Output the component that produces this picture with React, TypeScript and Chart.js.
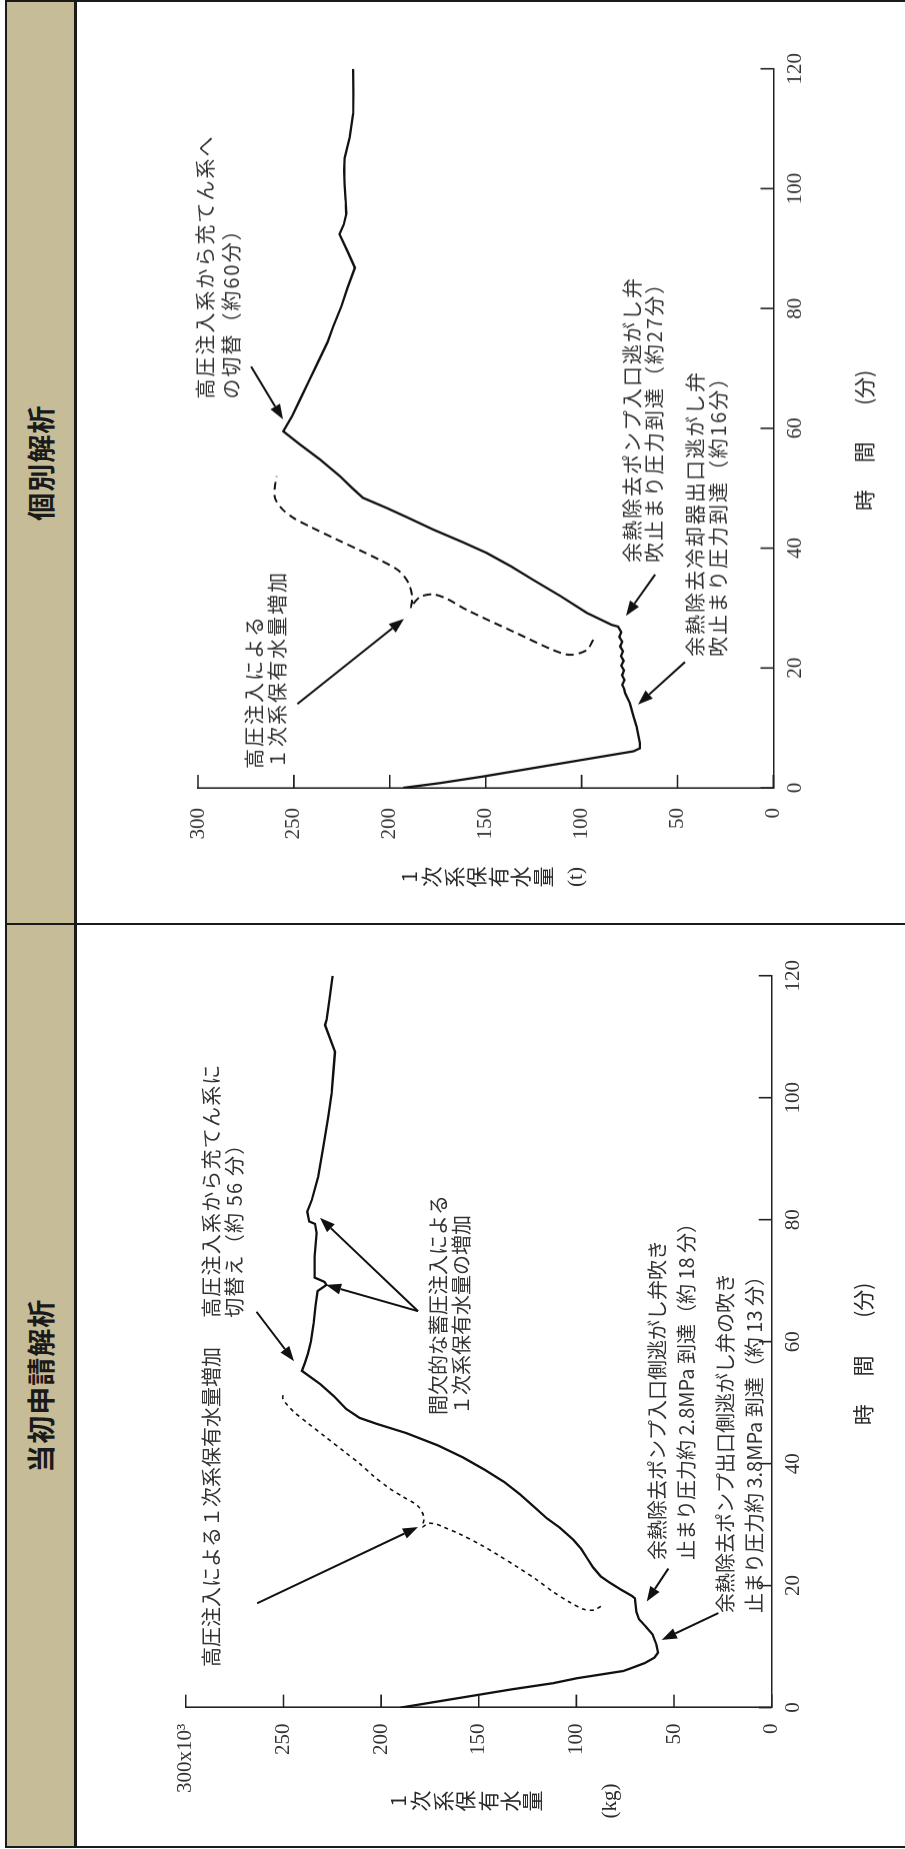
import { useEffect, useRef } from 'react';
import { Chart, registerables } from 'chart.js';
Chart.register(...registerables);

// ---------------- data ----------------
const timeTicks = [0, 20, 40, 60, 80, 100, 120];
const massTicks = [0, 50, 100, 150, 200, 250, 300];

// 当初申請解析 (left panel)  [time(min), mass(x10^3 kg)]
const leftSolid: [number, number][] = [
  [0, 190], [1, 171], [2, 152], [3, 133], [4, 112], [4.8, 100], [5.5, 86], [6.0, 76], [6.4, 72.5],
  [7.3, 65], [8.2, 60], [9.0, 58.2], [10.3, 59], [12.0, 61], [13.3, 64.5], [14.5, 68], [15.7, 69.3],
  [17.9, 70], [18.3, 71.5], [19.3, 77], [20.5, 83], [21.5, 87.5], [23.0, 91.5], [24.5, 94.5],
  [26.0, 97.5], [27.5, 101.5], [29.5, 108.5], [31.0, 115], [33.0, 122], [35.0, 129], [37.0, 137],
  [39.0, 147], [41.0, 158], [43.0, 171], [45.0, 187], [46.5, 202], [47.5, 211], [49.0, 218],
  [51.0, 224], [53.0, 231], [55.2, 240.5], [56.5, 239], [58.0, 237.5], [60.0, 236], [63.0, 234.5],
  [66.0, 233.5], [68.3, 232.5], [69.3, 228], [69.8, 229], [70.5, 234], [74.0, 234], [77.8, 233],
  [79.3, 233.8], [79.7, 236.8], [81.3, 237.8], [83.2, 235.5], [87.0, 232.2], [92.0, 229.6],
  [97.0, 227], [100.7, 225.3], [104.0, 224.5], [107.5, 223.6], [110.0, 226.5], [111.9, 228.7],
  [112.8, 227.9], [116.0, 226.5], [120.0, 224.8],
];
const leftDashed: [number, number][] = [
  [16.6, 87.5], [16.0, 91], [16.1, 96], [17.2, 103], [19, 112], [21, 120.5], [23, 130], [25, 140],
  [26.7, 149], [28.5, 160], [29.6, 168], [30.1, 172], [30.2, 176], [29.6, 179], [31.1, 178],
  [33, 181], [34.6, 189], [36, 196], [38, 204], [40, 211], [42, 219], [44.5, 229], [46.5, 237],
  [48.3, 244], [49.6, 248], [50.6, 250.3], [51.7, 250],
];

// 個別解析 (right panel)  [time(min), mass(t)]
const rightSolid: [number, number][] = [
  [0, 193], [0.8, 173.8], [1.9, 151.3], [3.3, 125.2], [4.7, 99.1], [6.1, 73], [6.6, 69.6],
  [7.5, 69.6], [10.2, 71.3], [12, 73], [14.1, 74.8], [15.8, 77.3], [16.5, 77.8], [17.2, 78.8],
  [18, 77.6], [18.8, 78.9], [19.6, 77.9], [20.4, 79.3], [21.2, 78.1], [22, 79.5], [22.8, 78.4],
  [23.6, 79.9], [24.4, 78.8], [25.2, 80.3], [26, 79.3], [26.7, 80.6], [26.9, 80.9], [27.2, 84.3],
  [29.2, 97.3], [32, 111], [34.7, 125.2], [37, 137], [39.2, 149.5], [41, 162], [43.1, 177.3],
  [45, 190], [46.7, 201.6], [48.4, 214], [50, 219.5], [52, 226], [54.8, 236.4], [57.3, 246.8],
  [59.5, 255.5], [62, 251], [65, 246.5], [68, 242], [71, 237.5], [74.4, 232.4], [77, 229.5],
  [80.3, 225.3], [83.5, 222], [86.8, 218.2], [89.5, 222], [92.4, 226.2], [94, 224], [95.8, 222.7],
  [98, 223], [100.6, 223.6], [103, 223.8], [105.1, 223.6], [108.5, 220.9], [112.5, 219.1],
  [116, 219], [120, 219.1],
];
const rightDashed: [number, number][] = [
  [24.7, 93.9], [23.0, 97.3], [22.2, 106], [23.0, 114.8], [25.8, 133.8], [29.7, 159.9],
  [31.6, 170.5], [32.3, 177.5], [31.9, 184], [30.8, 187.5], [30.0, 189], [31.8, 188.3],
  [33.6, 189.5], [35, 191.8], [36.4, 196], [38, 205], [39.7, 216], [41.5, 228], [43.5, 241],
  [45, 250], [46.5, 256], [48.3, 259.8], [50, 260], [52, 259],
];

// ---------------- layout / text ----------------
type Ann = { t: number; m: number; lines: string[]; gap: number; ls?: number };
type Arw = { from: [number, number]; to: [number, number] };
type Panel = {
  header: string;
  solid: [number, number][];
  dashed: [number, number][];
  dash: number[];
  dashWidth: number;
  canvasLeft: number;
  canvasWidth: number;
  padding: { left: number; right: number; top: number; bottom: number };
  yTickPad: number;
  topLabel: string;
  yTitle: string[];
  yUnit: string;
  yTitleDX: number;
  yTitleY0: number;
  yTitleStep: number;
  yUnitY: number;
  letterSpacing: number;
  anns: Ann[];
  arrows: Arw[];
};

const CANVAS_TOP = 77;
const CANVAS_H = 905 - CANVAS_TOP;
const timeTitle: [string, number][] = [['時', 48], ['間', 56], ['(分)', 66.8]];

const leftPanel: Panel = {
  header: '当初申請解析',
  solid: leftSolid,
  dashed: leftDashed,
  dash: [4, 4],
  dashWidth: 1.6,
  canvasLeft: 3,
  canvasWidth: 920,
  padding: { left: 48.4, right: 49.7, top: 108.8, bottom: 93.3 },
  yTickPad: 16,
  topLabel: '300x10³',
  yTitle: ['1', '次', '系', '保', '有', '水', '量'],
  yUnit: '(kg)',
  yTitleDX: 93.4,
  yTitleY0: 212.2,
  yTitleStep: 22.4,
  yUnitY: 424.2,
  letterSpacing: 0,
  anns: [
    { t: 6.66, m: 287.1, lines: ['高圧注入による１次系保有水量増加'], gap: 0 },
    { t: 63.9, m: 287.1, lines: ['高圧注入系から充てん系に', '切替え（約 56 分）'], gap: 23, ls: 1.2 },
    { t: 47.98, m: 170.6, lines: ['間欠的な蓄圧注入による', '１次系保有水量の増加'], gap: 23 },
    { t: 24.2, m: 58.7, lines: ['余熱除去ポンプ入口側逃がし弁吹き', '止まり圧力約 2.8MPa 到達（約 18 分）'], gap: 29 },
    { t: 15.5, m: 23.6, lines: ['余熱除去ポンプ出口側逃がし弁の吹き', '止まり圧力約 3.8MPa 到達（約 13 分）'], gap: 29 },
  ],
  arrows: [
    { from: [17.1, 263.5], to: [29.6, 181.1] },
    { from: [64.9, 263.8], to: [56.8, 244.6] },
    { from: [65.0, 181.1], to: [80.3, 231.3] },
    { from: [65.0, 181.1], to: [69.3, 228.2] },
    { from: [22.8, 52.9], to: [17.4, 64.0] },
    { from: [15.5, 27.3], to: [11.1, 56.3] },
  ],
};

const rightPanel: Panel = {
  header: '個別解析',
  solid: rightSolid,
  dashed: rightDashed,
  dash: [8, 5],
  dashWidth: 2,
  canvasLeft: 926,
  canvasWidth: 920.5,
  padding: { left: 45, right: 66.7, top: 121, bottom: 91.6 },
  yTickPad: 20,
  topLabel: '300',
  yTitle: ['1', '次', '系', '保', '有', '水', '量'],
  yUnit: '(t)',
  yTitleDX: 89,
  yTitleY0: 211,
  yTitleStep: 22.3,
  yUnitY: 378,
  letterSpacing: 2,
  anns: [
    { t: 3.17, m: 270.8, lines: ['高圧注入による', '１次系保有水量増加'], gap: 23 },
    { t: 64.9, m: 296.3, lines: ['高圧注入系から充てん系へ', 'の切替（約60分）'], gap: 26 },
    { t: 37.6, m: 73.7, lines: ['余熱除去ポンプ入口逃がし弁', '吹止まり圧力到達（約27分）'], gap: 22.5 },
    { t: 21.9, m: 40.6, lines: ['余熱除去冷却器出口逃がし弁', '吹止まり圧力到達（約16分）'], gap: 23 },
  ],
  arrows: [
    { from: [14.0, 248.2], to: [28.2, 192.6] },
    { from: [70.3, 272.3], to: [61.5, 255.7] },
    { from: [35.6, 61.7], to: [28.7, 76.9] },
    { from: [21.0, 46.1], to: [13.9, 70.6] },
  ],
};

const JP = '"Noto Sans CJK JP", "Noto Sans", sans-serif';
const SERIF = '"Liberation Serif", "DejaVu Serif", serif';

function drawArrow(ctx: CanvasRenderingContext2D, x1: number, y1: number, x2: number, y2: number) {
  const ang = Math.atan2(y2 - y1, x2 - x1);
  const len = 15;
  const w = 5.5;
  const bx = x2 - len * Math.cos(ang);
  const by = y2 - len * Math.sin(ang);
  ctx.beginPath();
  ctx.moveTo(x1, y1);
  ctx.lineTo(bx, by);
  ctx.stroke();
  ctx.beginPath();
  ctx.moveTo(x2, y2);
  ctx.lineTo(bx + w * Math.sin(ang), by - w * Math.cos(ang));
  ctx.lineTo(bx - w * Math.sin(ang), by + w * Math.cos(ang));
  ctx.closePath();
  ctx.fill();
}

function makeOverlay(p: Panel) {
  return {
    id: 'overlay',
    afterDraw(chart: any) {
      const ctx: CanvasRenderingContext2D = chart.ctx;
      const a = chart.chartArea;
      const xs = chart.scales.x;
      const ys = chart.scales.y;
      ctx.save();
      // inward tick marks
      ctx.strokeStyle = '#222';
      ctx.lineWidth = 1.6;
      ctx.beginPath();
      timeTicks.forEach((v) => {
        const x = xs.getPixelForValue(v);
        ctx.moveTo(x, a.bottom);
        ctx.lineTo(x, a.bottom - 13);
      });
      massTicks.forEach((v) => {
        const y = ys.getPixelForValue(v);
        ctx.moveTo(a.left, y);
        ctx.lineTo(a.left + 13, y);
      });
      ctx.stroke();

      // annotations
      ctx.fillStyle = '#333';
      ctx.textBaseline = 'middle';
      ctx.textAlign = 'left';
      ctx.font = `20px ${JP}`;
      p.anns.forEach((an) => {
        (ctx as any).letterSpacing = `${an.ls ?? p.letterSpacing}px`;
        const x = xs.getPixelForValue(an.t);
        const y = ys.getPixelForValue(an.m);
        an.lines.forEach((s, i) => ctx.fillText(s, x, y + i * an.gap));
      });
      (ctx as any).letterSpacing = '0px';

      // arrows
      ctx.strokeStyle = '#111';
      ctx.fillStyle = '#111';
      ctx.lineWidth = 2;
      p.arrows.forEach((ar) =>
        drawArrow(
          ctx,
          xs.getPixelForValue(ar.from[0]),
          ys.getPixelForValue(ar.from[1]),
          xs.getPixelForValue(ar.to[0]),
          ys.getPixelForValue(ar.to[1]),
        ),
      );

      // axis titles
      ctx.fillStyle = '#2a2a2a';
      ctx.textAlign = 'center';
      ctx.font = `21px ${JP}`;
      const tx = a.left - p.yTitleDX;
      p.yTitle.forEach((c, i) => ctx.fillText(c, tx, a.top + p.yTitleY0 + i * p.yTitleStep));
      ctx.font = `21px ${SERIF}`;
      ctx.fillText(p.yUnit, tx, a.top + p.yUnitY);
      ctx.font = `21px ${JP}`;
      timeTitle.forEach(([s, t]) => ctx.fillText(s, xs.getPixelForValue(t), a.bottom + 91));
      ctx.restore();
    },
  };
}

function PanelChart({ p }: { p: Panel }) {
  const ref = useRef<HTMLCanvasElement>(null);
  useEffect(() => {
    const canvas = ref.current!;
    const chart = new Chart(canvas, {
      type: 'line',
      data: {
        datasets: [
          {
            data: p.solid.map(([x, y]) => ({ x, y })),
            borderColor: '#111',
            borderWidth: 2.3,
            pointRadius: 0,
            tension: 0,
            fill: false,
          },
          {
            data: p.dashed.map(([x, y]) => ({ x, y })),
            borderColor: '#111',
            borderWidth: p.dashWidth,
            borderDash: p.dash,
            pointRadius: 0,
            tension: 0.3,
            fill: false,
          },
        ],
      },
      options: {
        animation: false,
        responsive: false,
        events: [],
        layout: { padding: p.padding },
        plugins: { legend: { display: false }, tooltip: { enabled: false } },
        scales: {
          x: {
            type: 'linear',
            min: 0,
            max: 120,
            afterBuildTicks: (s: any) => {
              s.ticks = timeTicks.map((v) => ({ value: v }));
            },
            afterFit: (s: any) => {
              s.height = 40;
            },
            ticks: { font: { family: SERIF, size: 21 }, color: '#333', padding: 9, maxRotation: 0, autoSkip: false },
            grid: { display: false, drawTicks: false },
            border: { display: true, color: '#222', width: 1.6 },
          },
          y: {
            type: 'linear',
            min: 0,
            max: 300,
            afterBuildTicks: (s: any) => {
              s.ticks = massTicks.map((v) => ({ value: v }));
            },
            afterFit: (s: any) => {
              s.width = 90;
            },
            ticks: {
              font: { family: SERIF, size: 21 },
              color: '#333',
              padding: p.yTickPad,
              autoSkip: false,
              callback: (v: any) => (v === 300 ? p.topLabel : String(v)),
            },
            grid: { display: false, drawTicks: false },
            border: { display: true, color: '#222', width: 1.6 },
          },
        },
      },
      plugins: [makeOverlay(p)],
    } as any);
    return () => chart.destroy();
  }, [p]);
  return (
    <canvas
      ref={ref}
      width={p.canvasWidth}
      height={CANVAS_H}
      style={{ position: 'absolute', left: p.canvasLeft, top: CANVAS_TOP, width: p.canvasWidth, height: CANVAS_H }}
    />
  );
}

const bar = (l: number, t: number, w: number, h: number) => (
  <div style={{ position: 'absolute', left: l, top: t, width: w, height: h, background: '#1a1a1a' }} />
);

function Header({ left, width, text }: { left: number; width: number; text: string }) {
  return (
    <div
      style={{
        position: 'absolute',
        left,
        top: 6.5,
        width,
        height: 67.5,
        background: '#c6bd98',
        display: 'flex',
        alignItems: 'center',
        justifyContent: 'center',
        font: `bold 28px ${JP}`,
        color: '#1a1a1a',
        letterSpacing: '1px',
      }}
    >
      {text}
    </div>
  );
}

export default function App() {
  useEffect(() => {
    document.body.style.margin = '0';
    document.documentElement.style.overflow = 'hidden';
  }, []);
  return (
    <div
      style={{
        position: 'absolute',
        left: 0,
        top: 0,
        width: 1849,
        height: 905,
        background: '#fff',
        transformOrigin: '0 0',
        transform: 'translateY(1849px) rotate(-90deg)',
        overflow: 'hidden',
      }}
    >
      <Header left={3} width={920.5} text={leftPanel.header} />
      <Header left={926} width={920.5} text={rightPanel.header} />
      <PanelChart p={leftPanel} />
      <PanelChart p={rightPanel} />
      {bar(1, 4.5, 1848, 2)}
      {bar(1, 74, 1848, 2.5)}
      {bar(1, 4.5, 2, 900.5)}
      {bar(1846.5, 4.5, 2.5, 900.5)}
      {bar(923.5, 4.5, 2.5, 900.5)}
    </div>
  );
}
